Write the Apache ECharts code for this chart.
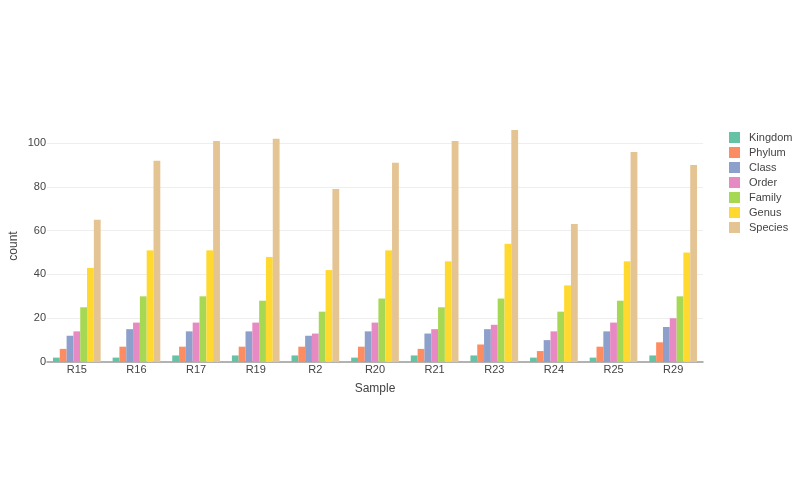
<!DOCTYPE html>
<html><head><meta charset="utf-8">
<script src="https://cdn.jsdelivr.net/npm/echarts@6/dist/echarts.min.js"></script>
<style>html,body{margin:0;padding:0;background:#fff}#c{width:800px;height:500px}</style>
</head><body><div id="c"></div>
<script>
const samples = ['R15','R16','R17','R19','R2','R20','R21','R23','R24','R25','R29'];
const seriesNames = ['Kingdom','Phylum','Class','Order','Family','Genus','Species'];
const Kingdom = [2,2,3,3,3,2,3,3,2,2,3];
const Phylum  = [6,7,7,7,7,7,6,8,5,7,9];
const Class   = [12,15,14,14,12,14,13,15,10,14,16];
const Order   = [14,18,18,18,13,18,15,17,14,18,20];
const Family  = [25,30,30,28,23,29,25,29,23,28,30];
const Genus   = [43,51,51,48,42,51,46,54,35,46,50];
const Species = [65,92,101,102,79,91,101,106,63,96,90];
const values = [Kingdom,Phylum,Class,Order,Family,Genus,Species];
const colors = ['#66c2a5','#fc8d62','#8da0cb','#e78ac3','#a6d854','#ffd92f','#e5c494'];
const yTicks = [0,20,40,60,80,100];

const chart = echarts.init(document.getElementById('c'), null, {renderer:'canvas'});
const font = 'Liberation Sans, Arial, sans-serif';
chart.setOption({
  animation:false,
  color: colors,
  textStyle:{fontFamily:font},
  grid:{left:47,right:97,top:130,bottom:138,containLabel:false,outerBoundsMode:'none'},
  graphic:[{
    type:'text', x:14, y:246, rotation:Math.PI/2,
    style:{text:'count', fontSize:12, fill:'#444', fontFamily:font,
      textAlign:'center', textVerticalAlign:'middle'}
  }],
  legend:{
    orient:'vertical', left:724, top:127,
    itemWidth:11, itemHeight:11, itemGap:4,
    icon:'rect',
    textStyle:{fontSize:11,color:'#444',fontFamily:font, padding:[0,0,0,4]},
    data: seriesNames
  },
  xAxis:{
    type:'category', data:samples,
    name:'Sample', nameLocation:'middle', nameGap:21,
    nameTextStyle:{fontSize:12,color:'#444'},
    axisLine:{lineStyle:{color:'#999',width:1.5}},
    axisTick:{show:false},
    axisLabel:{fontSize:11,color:'#444',margin:2}
  },
  yAxis:{
    type:'value', min:0, max:106, interval:20,
    axisLine:{show:false}, axisTick:{show:false},
    axisLabel:{fontSize:11,color:'#444',margin:1,showMaxLabel:false,
      formatter:v=> yTicks.includes(v)?String(v):''},
    splitLine:{lineStyle:{color:'#eee'},showMaxLine:false,showMinLine:false}
  },
  series: seriesNames.map((n,i)=>({
    name:n, type:'bar', data:values[i],
    barGap:'0%', barCategoryGap:'20%',
    itemStyle:{color:colors[i]}
  }))
});
</script></body></html>
